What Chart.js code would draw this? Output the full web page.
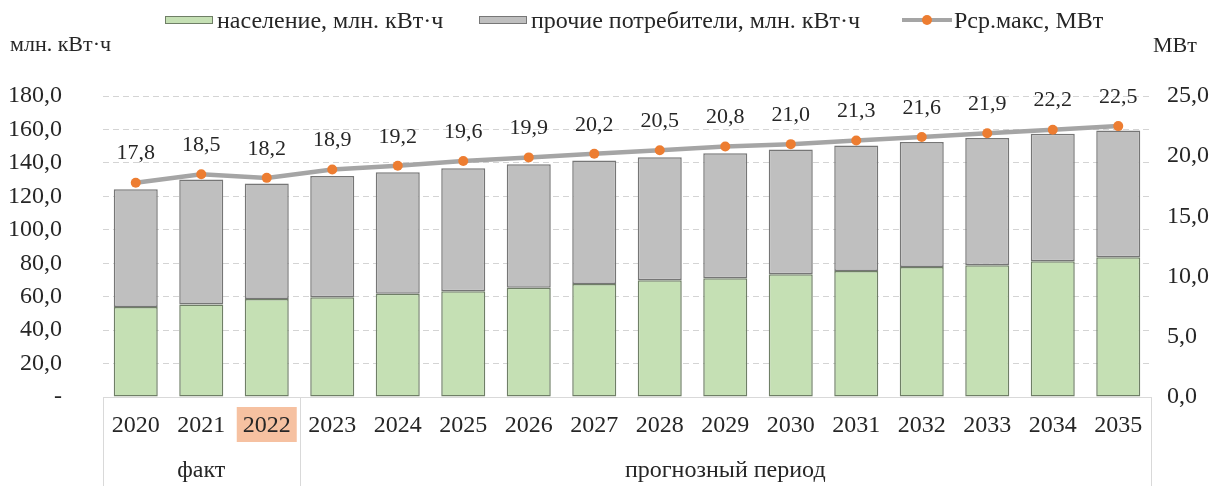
<!DOCTYPE html>
<html>
<head>
<meta charset="utf-8">
<script src="https://cdn.jsdelivr.net/npm/chart.js@4/dist/chart.umd.min.js"></script>
<style>
  body { margin: 0; background: #fff; }
  #wrap { width: 1219px; height: 486px; }
</style>
</head>
<body>
<div id="wrap"><canvas id="chart" width="1219" height="486"></canvas></div>
<script>
// values
const years = ['2020', '2021', '2022', '2023', '2024', '2025', '2026', '2027',
               '2028', '2029', '2030', '2031', '2032', '2033', '2034', '2035'];
const population = [53.8, 55.3, 58.6, 59.6, 61.8, 63.2, 65.4, 67.6,
                    69.8, 71.0, 73.4, 75.4, 77.8, 78.8, 81.2, 83.6];
const others = [70.4, 74.7, 69.0, 72.6, 72.6, 73.6, 73.8, 73.8,
                73.6, 74.8, 74.6, 75.0, 74.7, 76.1, 76.3, 75.7];
const pmax = [17.8, 18.5, 18.2, 18.9, 19.2, 19.6, 19.9, 20.2,
              20.5, 20.8, 21.0, 21.3, 21.6, 21.9, 22.2, 22.5];
const groupNames = ['факт', 'прогнозный период'];
const groupFirst = [0, 3];
const groupLast = [2, 15];
const highlightYear = '2022';

const FONT = '"Liberation Serif", "Times New Roman", serif';
const TXT = '#262626';

function fmt(v) {
    return v.toFixed(1).replace('.', ',');
}

// legend, axis titles, line labels and the year table under the plot
const decor = {
    id: 'decor',
    afterDatasetsDraw(chart) {
        const ctx = chart.ctx;
        const area = chart.chartArea;
        const x = chart.scales.x;
        ctx.save();
        ctx.fillStyle = TXT;

        // values over the line points
        ctx.font = '22px ' + FONT;
        ctx.textAlign = 'center';
        ctx.textBaseline = 'middle';
        const meta = chart.getDatasetMeta(2);
        meta.data.forEach((pt, i) => {
            ctx.fillText(fmt(pmax[i]), pt.x, pt.y - 29);
        });

        // table under the plot
        const half = (x.getPixelForValue(1) - x.getPixelForValue(0)) / 2;
        ctx.strokeStyle = '#d9d9d9';
        ctx.lineWidth = 1;
        ctx.beginPath();
        ctx.moveTo(area.left, area.bottom + 0.5);
        ctx.lineTo(area.right, area.bottom + 0.5);
        const cuts = [area.left, x.getPixelForValue(groupFirst[1]) - half, area.right];
        cuts.forEach(cx => {
            ctx.moveTo(Math.round(cx) + 0.5, area.bottom);
            ctx.lineTo(Math.round(cx) + 0.5, chart.height);
        });
        ctx.stroke();

        ctx.font = '24px ' + FONT;
        years.forEach((y, i) => {
            const cx = x.getPixelForValue(i);
            if (y === highlightYear) {
                ctx.fillStyle = '#f6c1a1';
                ctx.fillRect(cx - 30, area.bottom + 10, 60, 35);
            }
            ctx.fillStyle = TXT;
            ctx.fillText(y, cx, area.bottom + 29);
        });
        groupNames.forEach((g, k) => {
            const cx = (x.getPixelForValue(groupFirst[k]) + x.getPixelForValue(groupLast[k])) / 2;
            ctx.fillText(g, cx, area.bottom + 74);
        });

        // axis titles
        ctx.textBaseline = 'alphabetic';
        ctx.textAlign = 'left';
        ctx.font = '22px ' + FONT;
        ctx.fillText('млн. кВт·ч', 10, 51);
        ctx.fillText('МВт', 1153, 52);

        // legend
        ctx.font = '24px ' + FONT;
        ctx.lineWidth = 1;
        const items = [
            {x: 165, fill: '#c5e0b4', stroke: '#6f7f66', text: 'население, млн. кВт·ч'},
            {x: 479, fill: '#bfbfbf', stroke: '#777777', text: 'прочие потребители, млн. кВт·ч'}
        ];
        items.forEach(it => {
            ctx.fillStyle = it.fill;
            ctx.fillRect(it.x, 16, 48, 8);
            ctx.strokeStyle = it.stroke;
            ctx.strokeRect(it.x + 0.5, 16.5, 47, 7);
            ctx.fillStyle = TXT;
            ctx.fillText(it.text, it.x + 52, 28);
        });
        ctx.strokeStyle = '#a5a5a5';
        ctx.lineWidth = 4;
        ctx.beginPath();
        ctx.moveTo(902, 20);
        ctx.lineTo(952, 20);
        ctx.stroke();
        ctx.fillStyle = '#ed7d31';
        ctx.beginPath();
        ctx.arc(927, 20, 5, 0, Math.PI * 2);
        ctx.fill();
        ctx.fillStyle = TXT;
        ctx.fillText('Рср.макс, МВт', 954, 28);

        ctx.restore();
    }
};

const ctx = document.getElementById('chart').getContext('2d');
const chart = new Chart(ctx, {
    type: 'bar',
    data: {
        labels: years,
        datasets: [
            {
                label: 'население, млн. кВт·ч',
                data: population,
                backgroundColor: '#c5e0b4',
                borderColor: '#6f7f66',
                borderWidth: 1.5,
                borderSkipped: false,
                stack: 'energy',
                yAxisID: 'y',
                order: 2,
                categoryPercentage: 1,
                barPercentage: 0.672
            },
            {
                label: 'прочие потребители, млн. кВт·ч',
                data: others,
                backgroundColor: '#bfbfbf',
                borderColor: '#767676',
                borderWidth: 1.5,
                borderSkipped: false,
                stack: 'energy',
                yAxisID: 'y',
                order: 2,
                categoryPercentage: 1,
                barPercentage: 0.672
            },
            {
                type: 'line',
                label: 'Рср.макс, МВт',
                data: pmax,
                yAxisID: 'y2',
                borderColor: '#a5a5a5',
                borderWidth: 4.5,
                pointRadius: 5,
                pointBorderWidth: 0,
                pointBackgroundColor: '#ed7d31',
                tension: 0,
                order: 0
            }
        ]
    },
    options: {
        responsive: false,
        animation: false,
        layout: {padding: {top: 96, bottom: 89, left: 0, right: 0}},
        plugins: {
            legend: {display: false},
            tooltip: {enabled: false}
        },
        scales: {
            x: {
                display: false,
                stacked: true
            },
            y: {
                position: 'left',
                stacked: true,
                min: 0,
                max: 180,
                ticks: {
                    stepSize: 20,
                    padding: 41,
                    color: TXT,
                    font: {family: FONT, size: 24},
                    callback: v => v === 0 ? '-' : fmt(v)
                },
                grid: {color: '#d4d4d4', drawTicks: false},
                border: {display: false, dash: [6, 4]},
                afterFit: s => { s.width = 103; }
            },
            y2: {
                position: 'right',
                min: 0,
                max: 25,
                ticks: {
                    stepSize: 5,
                    padding: 16,
                    color: TXT,
                    font: {family: FONT, size: 24},
                    callback: v => fmt(v)
                },
                grid: {display: false, drawTicks: false},
                border: {display: false},
                afterFit: s => { s.width = 68; }
            }
        }
    },
    plugins: [decor]
});
</script>
</body>
</html>
